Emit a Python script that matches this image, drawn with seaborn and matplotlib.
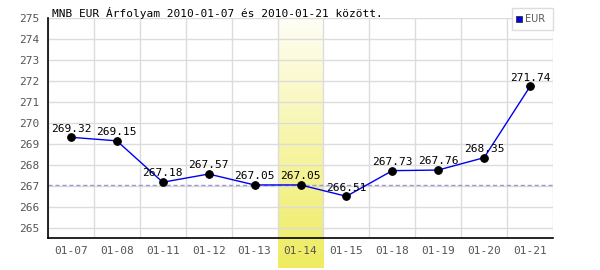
import numpy as np
import pandas as pd
import matplotlib
matplotlib.use("Agg")
import matplotlib.pyplot as plt
import seaborn as sns
from matplotlib.colors import LinearSegmentedColormap
from matplotlib.patches import Rectangle

dates = ["01-07", "01-08", "01-11", "01-12", "01-13", "01-14", "01-15", "01-18", "01-19", "01-20", "01-21"]
rates = [269.32, 269.15, 267.18, 267.57, 267.05, 267.05, 266.51, 267.73, 267.76, 268.35, 271.74]
highlight_date = "01-14"
ref_value = 267.05
yticks = list(range(265, 276))
title = "MNB EUR Árfolyam 2010-01-07 és 2010-01-21 között."
series_name = "EUR"

sns.set_theme(style="white")
plt.rcParams["font.family"] = ["DejaVu Sans Mono", "DejaVu Sans"]

fig = plt.figure(figsize=(6, 2.7), dpi=100)
ax = fig.add_axes([48/600, 32/270, 505/600, 220/270])

df = pd.DataFrame({"date": dates, "rate": rates, "pos": np.arange(len(dates))})

ymin = 265 - 10/21
ax.set_xlim(-0.5, len(dates) - 0.5)
ax.set_ylim(ymin, 275)

hi = dates.index(highlight_date)
cmap = LinearSegmentedColormap.from_list("yl", ["#fefef6", "#f7f5a8", "#eeec60"])
grad = np.linspace(0, 1, 256).reshape(-1, 1)
y_bottom_ext = ymin - (268 - 238) / 21
ax.imshow(grad, aspect="auto", cmap=cmap, origin="upper",
          extent=[hi - 0.5, hi + 0.5, y_bottom_ext, 275], zorder=0.5,
          clip_on=False)

for y in yticks:
    ax.axhline(y, color="#dcdcdc", lw=1, zorder=0.6)
for i in range(len(dates) + 1):
    ax.axvline(i - 0.5, color="#dcdcdc", lw=1, zorder=0.6)

ax.axhline(ref_value, color="#9a9ad0", lw=1, ls=(0, (3, 2)), zorder=1)

sns.lineplot(data=df, x="pos", y="rate", ax=ax, color="#0000ee", lw=1,
             marker="o", markersize=5.5, markerfacecolor="black",
             markeredgecolor="black", zorder=3, legend=False)

for i, v in enumerate(rates):
    ax.text(i, v + 0.18, f"{v:.2f}", ha="center", va="bottom", fontsize=8,
            color="black", zorder=4)

ax.set_xticks(range(len(dates)))
ax.set_xticklabels(dates)
ax.set_yticks(yticks)
ax.tick_params(axis="both", length=0, labelsize=8, colors="#555555", pad=6)
ax.set_xlabel("")
ax.set_ylabel("")

for s in ["top", "right"]:
    ax.spines[s].set_visible(False)
for s in ["left", "bottom"]:
    ax.spines[s].set_color("black")
    ax.spines[s].set_linewidth(1.2)

fig.text(52/600, 1 - 13/270, title, fontsize=8, color="black", va="center", ha="left")

lx0, ly0, lw_, lh_ = 512/600, 1 - 30/270, 41/600, 22/270
fig.patches.append(Rectangle((lx0, ly0), lw_, lh_, transform=fig.transFigure,
                             facecolor="white", edgecolor="#dcdcdc", lw=1, zorder=5))
fig.patches.append(Rectangle((516/600, 1 - 22/270), 6/600, 6/270, transform=fig.transFigure,
                             facecolor="#0000ee", edgecolor="#333333", lw=0.6, zorder=6))
fig.text(525/600, 1 - 19/270, series_name, fontsize=7, color="#555555", va="center",
         ha="left", family="DejaVu Sans", zorder=7)

fig.savefig("out.png", dpi=100)
